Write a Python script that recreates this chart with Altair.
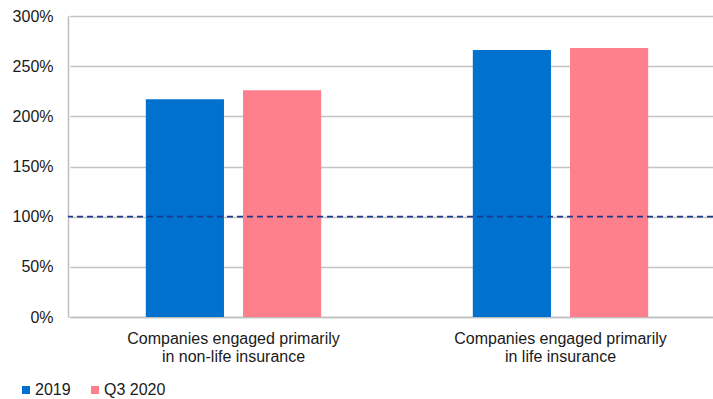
import altair as alt
import pandas as pd

categories = ["Companies engaged primarily\nin non-life insurance",
              "Companies engaged primarily\nin life insurance"]
series = ["2019", "Q3 2020"]
values_2019 = [2.17, 2.66]
values_q3 = [2.26, 2.68]
threshold = [1.0]
y_ticks = [0, 0.5, 1, 1.5, 2, 2.5, 3]

rows = []
for c, a, b in zip(categories, values_2019, values_q3):
    rows.append({"cat": c, "series": series[0], "value": a})
    rows.append({"cat": c, "series": series[1], "value": b})
df = pd.DataFrame(rows)
df_rule = pd.DataFrame({"y": threshold})

FONT = "Liberation Sans"
TXT = "#1A1A1A"

bars = alt.Chart(df).mark_bar().encode(
    x=alt.X("cat:N", sort=categories,
            scale=alt.Scale(range=[2, 656], paddingInner=0, paddingOuter=0),
            axis=alt.Axis(title=None, labelAngle=0, ticks=False, labelLimit=0,
                          labelExpr="split(datum.label, '\\n')",
                          labelFont=FONT, labelFontSize=16, labelColor=TXT,
                          labelPadding=13, labelLineHeight=18,
                          domainColor="#BFBFBF", domainWidth=1.5, grid=False)),
    xOffset=alt.XOffset("series:N", sort=series,
                        scale=alt.Scale(paddingInner=0.196, paddingOuter=0.78)),
    y=alt.Y("value:Q", scale=alt.Scale(domain=[0, 3], nice=False),
            axis=alt.Axis(title=None, values=y_ticks, format=".0%",
                          ticks=False, labelFont=FONT, labelFontSize=16,
                          labelColor=TXT, labelPadding=15,
                          domainColor="#BFBFBF", domainWidth=1.5,
                          gridColor="#C4C4C4", gridWidth=1.5)),
    color=alt.Color("series:N", sort=series,
                    scale=alt.Scale(domain=series, range=["#0071CE", "#FF808D"]),
                    legend=alt.Legend(title=None, orient="none", direction="horizontal",
                                      legendX=-50, legendY=366,
                                      symbolType="square", symbolSize=64,
                                      symbolStrokeWidth=0, labelFont=FONT,
                                      labelFontSize=16, labelColor=TXT,
                                      labelOffset=1, columnPadding=16)),
)

rule = alt.Chart(df_rule).mark_rule(color="#1B3A8C", strokeWidth=1.6,
                                    strokeDash=[6, 4]).encode(y="y:Q")

chart = alt.layer(bars, rule).properties(
    width=645, height=301,
    autosize=alt.AutoSizeParams(type="none"),
    padding={"left": 68, "top": 16, "right": 0, "bottom": 82},
).configure_view(stroke=None).configure(background="white")

chart.save("out.html", embed_options={"renderer": "svg", "actions": False})
